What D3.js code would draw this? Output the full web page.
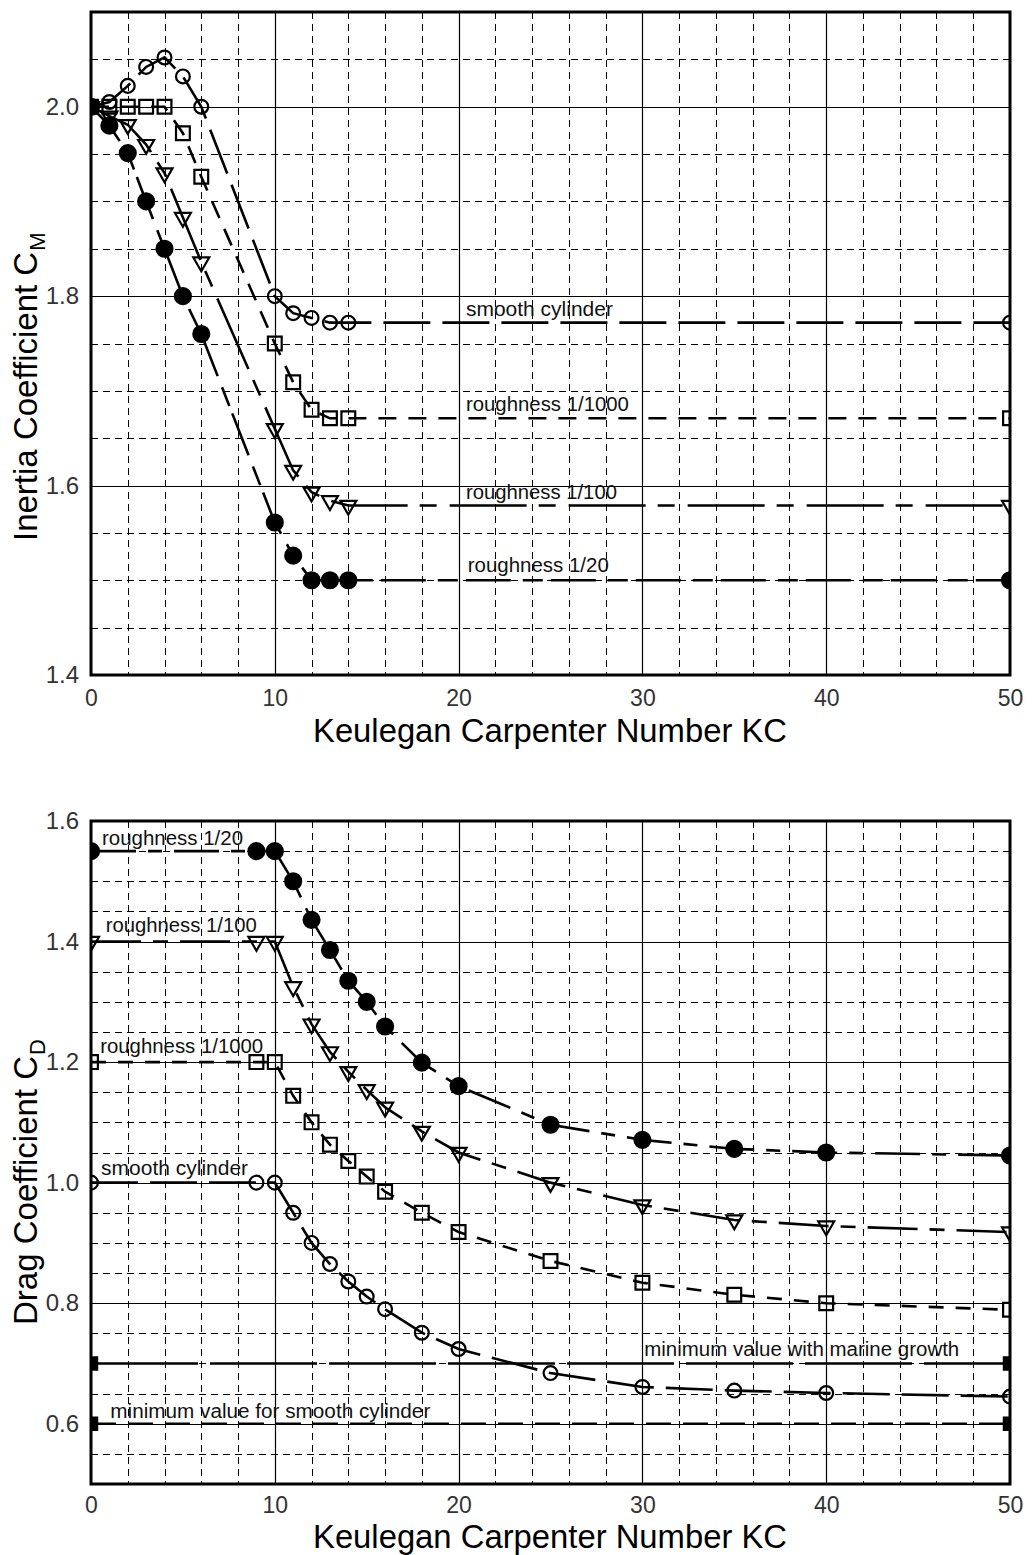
<!DOCTYPE html>
<html><head><meta charset="utf-8">
<script src="https://cdn.jsdelivr.net/npm/d3@7"></script>
<style>html,body{margin:0;padding:0;background:#fff}svg{display:block}</style>
</head><body>
<svg id="c" width="1033" height="1555"></svg>
<script>
// ---------- DATA ----------
const kcTop = [0,1,2,3,4,5,6,10,11,12,13,14,50];
const cmSmooth = [2.0,2.005,2.022,2.042,2.052,2.032,2.0,1.80,1.782,1.777,1.772,1.772,1.772];
const cmR1000  = [2.0,2.0,2.0,2.0,2.0,1.972,1.926,1.75,1.709,1.68,1.671,1.671,1.671];
const cmR100   = [2.0,1.99,1.981,1.96,1.93,1.883,1.836,1.66,1.616,1.593,1.584,1.579,1.579];
const cmR20    = [2.0,1.98,1.951,1.90,1.85,1.80,1.76,1.561,1.526,1.50,1.50,1.50,1.50];

const kcBot = [0,9,10,11,12,13,14,15,16,18,20,25,30,35,40,50];
const cdR20    = [1.55,1.55,1.55,1.50,1.436,1.386,1.335,1.30,1.259,1.199,1.16,1.096,1.071,1.056,1.05,1.045];
const cdR100   = [1.40,1.40,1.40,1.325,1.263,1.217,1.184,1.154,1.125,1.085,1.05,1.0,0.963,0.938,0.928,0.918];
const cdR1000  = [1.20,1.20,1.20,1.144,1.10,1.063,1.036,1.010,0.985,0.950,0.918,0.870,0.834,0.814,0.80,0.789];
const cdSmooth = [1.0,1.0,1.0,0.95,0.90,0.865,0.836,0.811,0.79,0.751,0.724,0.684,0.661,0.655,0.651,0.645];

const refKC = [0,50];
const cdMarine = [0.7,0.7];
const cdSmoothMin = [0.6,0.6];

const xTicks = [0,10,20,30,40,50];
const cmTicks = [1.4,1.6,1.8,2.0];
const cdTicks = [0.6,0.8,1.0,1.2,1.4,1.6];

const labelsTop = ["smooth cylinder","roughness 1/1000","roughness 1/100","roughness 1/20"];
const labelsBot = ["roughness 1/20","roughness 1/100","roughness 1/1000","smooth cylinder"];
const refLabels = ["minimum value with marine growth","minimum value for smooth cylinder"];
const xTitle = "Keulegan Carpenter Number KC";

// ---------- LAYOUT ----------
const FONT = "'Liberation Sans', Arial, sans-serif";
const svg = d3.select("#c");
const X0 = 91, X1 = 1010;

function panel(o){
  const g = svg.append("g");
  const x = d3.scaleLinear().domain([0,50]).range([X0,X1]);
  const y = d3.scaleLinear().domain(o.ydom).range([o.yb,o.yt]);
  const clipId = "clip"+o.id;
  svg.append("clipPath").attr("id",clipId).append("rect")
    .attr("x",X0).attr("y",o.yt).attr("width",X1-X0).attr("height",o.yb-o.yt);

  // grid
  const grid = g.append("g");
  const xmin = d3.range(2,50,2).filter(v=>v%10!==0);
  const xmaj = [10,20,30,40];
  grid.selectAll(".vmin").data(xmin).join("line")
    .attr("x1",d=>Math.round(x(d))+0.5).attr("x2",d=>Math.round(x(d))+0.5)
    .attr("y1",o.yt).attr("y2",o.yb).attr("stroke","#000").attr("stroke-width",1)
    .attr("stroke-dasharray","7,5");
  grid.selectAll(".vmaj").data(xmaj).join("line")
    .attr("x1",d=>Math.round(x(d))+0.5).attr("x2",d=>Math.round(x(d))+0.5)
    .attr("y1",o.yt).attr("y2",o.yb).attr("stroke","#000").attr("stroke-width",1.2);
  const steps = Math.round((o.ydom[1]-o.ydom[0])/0.05);
  const yall = d3.range(1,steps).map(i=>+(o.ydom[0]+i*0.05).toFixed(3));
  const isMaj = v=>Math.abs(Math.round(v*10)%2)===0 && Math.abs(v*10-Math.round(v*10))<1e-6;
  grid.selectAll(".hmin").data(yall.filter(v=>!isMaj(v))).join("line")
    .attr("y1",d=>Math.round(y(d))+0.5).attr("y2",d=>Math.round(y(d))+0.5)
    .attr("x1",X0).attr("x2",X1).attr("stroke","#000").attr("stroke-width",1)
    .attr("stroke-dasharray","7,5");
  grid.selectAll(".hmaj").data(yall.filter(isMaj)).join("line")
    .attr("y1",d=>Math.round(y(d))+0.5).attr("y2",d=>Math.round(y(d))+0.5)
    .attr("x1",X0).attr("x2",X1).attr("stroke","#000").attr("stroke-width",1.2);

  // axes
  const ax = g.append("g").attr("transform",`translate(0,${o.yb})`)
    .call(d3.axisBottom(x).tickValues(xTicks).tickSize(0).tickPadding(o.xpad).tickFormat(d3.format("d")));
  ax.select(".domain").remove();
  ax.selectAll("text").attr("font-size",23).attr("font-family",FONT).attr("fill","#333");
  const ay = g.append("g").attr("transform",`translate(${X0},0)`)
    .call(d3.axisLeft(y).tickValues(o.yticks).tickSize(0).tickPadding(12).tickFormat(d3.format(".1f")));
  ay.select(".domain").remove();
  ay.selectAll("text").attr("font-size",24).attr("font-family",FONT).attr("fill","#333");

  // x title
  g.append("text").attr("x",550).attr("y",o.yb+o.xtitleOff).attr("text-anchor","middle")
    .attr("font-family",FONT).attr("font-size",33).attr("fill","#000")
    .attr("textLength",474).attr("lengthAdjust","spacingAndGlyphs").text(xTitle);
  // y title
  const yt = g.append("g").attr("transform",`translate(37,${o.ytitleStart}) rotate(-90)`);
  const t1 = yt.append("text").attr("x",0).attr("y",0).attr("font-family",FONT)
    .attr("font-size",33).attr("fill","#000").text(o.ytitle);
  const w = t1.node().getComputedTextLength();
  yt.append("text").attr("x",w+1).attr("y",8).attr("font-family",FONT)
    .attr("font-size",22).attr("fill","#000").text(o.ysub);

  const plot = g.append("g").attr("clip-path",`url(#${clipId})`);
  return {g,plot,x,y};
}

function drawSeries(P, kc, vals, dash, marker){
  const pts = kc.map((k,i)=>[k,vals[i]]);
  const line = d3.line().x(d=>P.x(d[0])).y(d=>P.y(d[1]));
  P.plot.append("path").attr("d",line(pts)).attr("fill","none").attr("stroke","#000")
    .attr("stroke-width",2.6).attr("stroke-dasharray",dash);
  let sym, size, filled = false, rot = 0;
  if(marker==="circle"){sym=d3.symbolCircle;size=150;}
  else if(marker==="dot"){sym=d3.symbolCircle;size=200;filled=true;}
  else if(marker==="square"){sym=d3.symbolSquare;size=190;}
  else if(marker==="fsquare"){sym=d3.symbolSquare;size=150;filled=true;}
  else if(marker==="tri"){sym=d3.symbolTriangle;size=110;rot=180;}
  const s = d3.symbol().type(sym).size(size);
  P.plot.selectAll(null).data(pts).join("path").attr("d",s)
    .attr("transform",d=>`translate(${P.x(d[0])},${P.y(d[1])}) rotate(${rot})`)
    .attr("fill",filled?"#000":"none").attr("stroke","#000").attr("stroke-width",2.2);
}

function label(P, txt, kcx, v, dy, len){
  P.g.append("text").attr("x",P.x(kcx)).attr("y",P.y(v)+dy)
    .attr("font-family",FONT).attr("font-size",20).attr("fill","#111")
    .attr("textLength",len).attr("lengthAdjust","spacingAndGlyphs").text(txt);
}

function frame(o){
  svg.append("rect").attr("x",X0).attr("y",o.yt).attr("width",X1-X0).attr("height",o.yb-o.yt)
    .attr("fill","none").attr("stroke","#000").attr("stroke-width",3);
}

// ---------- TOP PANEL ----------
const topO = {id:"t",ydom:[1.4,2.1],yt:12,yb:675,yticks:cmTicks,xpad:15,xtitleOff:67,ytitleStart:541,ytitle:"Inertia Coefficient C",ysub:"M"};
const T = panel(topO);
label(T,labelsTop[0],20.4,cmSmooth[cmSmooth.length-1],-7,147);
label(T,labelsTop[1],20.4,cmR1000[cmR1000.length-1],-7,163);
label(T,labelsTop[2],20.4,cmR100[cmR100.length-1],-6,151);
label(T,labelsTop[3],20.5,cmR20[cmR20.length-1],-8,141);
drawSeries(T,kcTop,cmSmooth,"47,12","circle");
drawSeries(T,kcTop,cmR1000,"18,12","square");
drawSeries(T,kcTop,cmR100,"77,12,17,13","tri");
drawSeries(T,kcTop,cmR20,"45,12,20,8","dot");
frame(topO);

// ---------- BOTTOM PANEL ----------
const botO = {id:"b",ydom:[0.5,1.6],yt:821,yb:1484,yticks:cdTicks,xpad:13,xtitleOff:64,ytitleStart:1325,ytitle:"Drag Coefficient C",ysub:"D"};
const B = panel(botO);
label(B,labelsBot[0],0.6,cdR20[0],-6,141);
label(B,labelsBot[1],0.8,cdR100[0],-10,151);
label(B,labelsBot[2],0.5,cdR1000[0],-9,163);
label(B,labelsBot[3],0.55,cdSmooth[0],-8,147);
label(B,refLabels[0],30.1,cdMarine[0],-7,315);
label(B,refLabels[1],1.05,cdSmoothMin[0],-6,320);
drawSeries(B,refKC,cdMarine,"107,12","fsquare");
drawSeries(B,refKC,cdSmoothMin,"25,12","fsquare");
drawSeries(B,kcBot,cdR20,"45,12,14,12","dot");
drawSeries(B,kcBot,cdR100,"50,12,15,12","tri");
drawSeries(B,kcBot,cdR1000,"15,12","square");
drawSeries(B,kcBot,cdSmooth,"47,12","circle");
frame(botO);
</script>
</body></html>
